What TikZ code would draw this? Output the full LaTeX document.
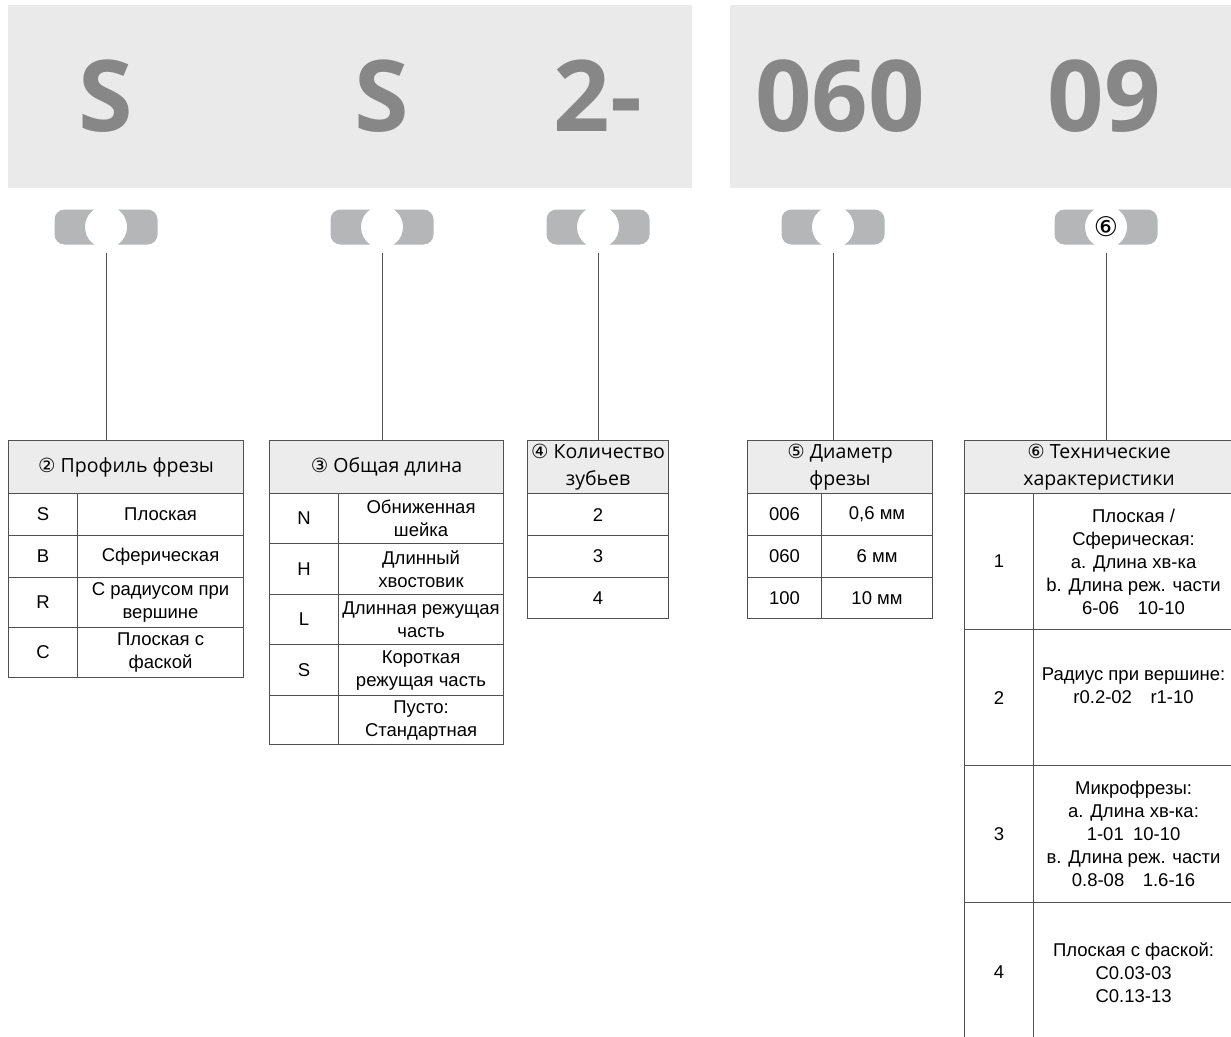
\documentclass[tikz,border=0pt]{standalone}
\usepackage{fontspec}
\setmainfont{Liberation Sans}
\newfontfamily\headfont{Open Sans}
\newfontfamily\symfont{DejaVu Sans}
\usepackage{tikz}
\usetikzlibrary{positioning, calc}
\definecolor{bannergray}{RGB}{234, 234, 234}
\definecolor{codegray}{RGB}{135, 135, 135}
\definecolor{pillgray}{RGB}{181, 182, 184}
\definecolor{headgray}{RGB}{236, 236, 236}
\definecolor{linegray}{RGB}{80, 80, 80}
\newcommand{\cnum}[1]{{\symfont #1}}

\begin{document}
\begin{tikzpicture}[x=1pt, y=-1pt,
  every node/.style={inner sep=0pt},
  code/.style={anchor=base, text=codegray, font=\headfont\bfseries\fontsize{99}{99}\selectfont},
  pill/.style={rectangle, rounded corners=10pt, fill=pillgray, minimum width=103, minimum height=35},
  hole/.style={circle, fill=white, minimum size=42},
  link/.style={draw=linegray, line width=1pt},
  cell/.style={draw=linegray, line width=1.1pt, anchor=north west, align=center,
    font=\fontsize{18.5}{23}\selectfont},
  head/.style={cell, fill=headgray, minimum height=53, font=\headfont\fontsize{19.5}{27}\selectfont}]

  \useasboundingbox (0,0) rectangle (1231,1036);
  \clip (0,0) rectangle (1231,1036);

  % ---------- Banner ----------
  \fill[bannergray] (8,5) rectangle (692,188);
  \fill[bannergray] (730,5) rectangle (1240,188);
  \foreach \x/\t [count=\i] in {106/S, 382/S, 598/2-, 840/060, 1104/09}{
    \node[code] (c\i) at (\x,131) {\t};
  }

  % ---------- Pills ----------
  \foreach \x/\n in {106/1, 382/2, 598/3, 833/4, 1106/5}{
    \node[pill] (p\n) at (\x,227) {};
  }
  \foreach \n in {1,...,4}{
    \node[hole] (o\n) at (p\n) {};
  }
  \node[hole, font=\symfont\fontsize{27}{27}\selectfont] (o5) at (p5) {⑥};

  % ---------- Profile ----------
  \node[head, minimum width=235] (h1) at (8,440) {\cnum{②} Профиль фрезы};
  \foreach \y/\h/\k/\v [count=\i] in {493/42/S/Плоская, 535/42/B/Сферическая,
      577/50/R/{С радиусом при\\вершине}, 627/50/C/{Плоская с\\фаской}}{
    \node[cell, minimum width=69, minimum height=\h] (pk\i) at (8,\y) {\k};
    \node[cell, minimum width=166, minimum height=\h] (pv\i) at (77,\y) {\v};
  }

  % ---------- Length ----------
  \node[head, minimum width=234] (h2) at (269,440) {\cnum{③} Общая длина};
  \foreach \y/\h/\k/\v [count=\i] in {493/50/N/{Обниженная\\шейка},
      543/51/H/{Длинный\\хвостовик}, 594/50/L/{Длинная режущая\\часть},
      644/51/S/{Короткая\\режущая часть}, 695/49//{Пусто:\\Стандартная}}{
    \node[cell, minimum width=69, minimum height=\h] (lk\i) at (269,\y) {\k};
    \node[cell, minimum width=165, minimum height=\h] (lv\i) at (338,\y) {\v};
  }

  % ---------- Teeth ----------
  \node[head, minimum width=141] (h3) at (527,440) {\cnum{④} Количество\\зубьев};
  \foreach \y/\h/\k [count=\i] in {493/42/2, 535/42/3, 577/41/4}{
    \node[cell, minimum width=141, minimum height=\h] (zk\i) at (527,\y) {\k};
  }

  % ---------- Diameter ----------
  \node[head, minimum width=185] (h4) at (747,440) {\cnum{⑤} Диаметр\\фрезы};
  \foreach \y/\h/\k/\v [count=\i] in {493/42/006/{0,6 мм}, 535/42/060/{6 мм},
      577/41/100/{10 мм}}{
    \node[cell, minimum width=74, minimum height=\h] (dk\i) at (747,\y) {\k};
    \node[cell, minimum width=111, minimum height=\h] (dv\i) at (821,\y) {\v};
  }

  % ---------- Specs ----------
  \node[head, minimum width=269] (h5) at (964,440) {\cnum{⑥} Технические\\характеристики};
  \foreach \y/\h/\k/\v [count=\i] in {
      493/136/1/{Плоская /\\Сферическая:\\а. Длина хв-ка\\b. Длина реж. части\\6-06\quad 10-10},
      629/136/2/{Радиус при вершине:\\r0.2-02\quad r1-10\\\mbox{}},
      765/137/3/{Микрофрезы:\\а. Длина хв-ка:\\1-01\enspace 10-10\\в. Длина реж. части\\0.8-08\quad 1.6-16},
      902/140/4/{Плоская с фаской:\\C0.03-03\\C0.13-13}}{
    \node[cell, minimum width=69, minimum height=\h] (sk\i) at (964,\y) {\k};
    \node[cell, minimum width=200, minimum height=\h] (sv\i) at (1033,\y) {\v};
  }

  % ---------- Links ----------
  \foreach \n in {1,...,5}{
    \draw[link] ([yshift=-8pt]p\n.south) -- (p\n.south |- h\n.north);
  }
\end{tikzpicture}
\end{document}
